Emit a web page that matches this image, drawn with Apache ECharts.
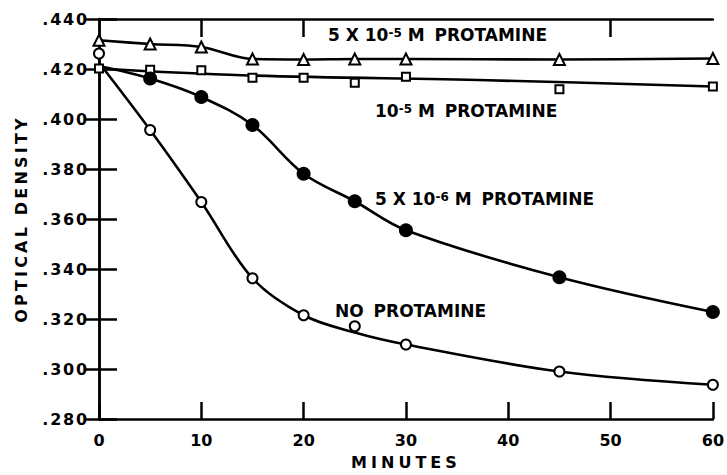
<!DOCTYPE html>
<html>
<head>
<meta charset="utf-8">
<script src="https://cdn.jsdelivr.net/npm/echarts@6/dist/echarts.min.js"></script>
<style>
  html, body { margin: 0; padding: 0; background: #fff; }
  #chart { width: 727px; height: 475px; }
</style>
</head>
<body>
<div id="chart"></div>
<script>
// Optical density of the suspension over time, at four protamine levels.

// 5 x 10^-5 M protamine (open triangles)
const triMinutes = [0, 5, 10, 15, 20, 25, 30, 45, 60];
const triDensity = [0.4315, 0.4300, 0.4288, 0.4240, 0.4238, 0.4240, 0.4240, 0.4238, 0.4242];

// 10^-5 M protamine (open squares) and its drawn trend line
const sqMinutes = [0, 5, 10, 15, 20, 25, 30, 45, 60];
const sqDensity = [0.4202, 0.4197, 0.4195, 0.4165, 0.4165, 0.4145, 0.4169, 0.4119, 0.4130];
const sqLineMinutes = [0, 14, 38, 60];
const sqLineDensity = [0.4202, 0.4175, 0.4155, 0.4130];

// 5 x 10^-6 M protamine (filled circles); the curve starts from the common origin
const fillMinutes = [5, 10, 15, 20, 25, 30, 45, 60];
const fillDensity = [0.4162, 0.4088, 0.3976, 0.3781, 0.3671, 0.3555, 0.3367, 0.3228];
const fillLineMinutes = [0, 5, 10, 15, 20, 25, 30, 45, 60];
const fillLineDensity = [0.4212, 0.4162, 0.4088, 0.3976, 0.3781, 0.3671, 0.3555, 0.3367, 0.3228];

// No protamine (open circles) and its drawn curve
const openMinutes = [0, 5, 10, 15, 20, 25, 30, 45, 60];
const openDensity = [0.4262, 0.3956, 0.3668, 0.3363, 0.3215, 0.3171, 0.3098, 0.2990, 0.2937];
const openLineMinutes = [0, 5, 10, 15, 20, 25, 30, 45, 60];
const openLineDensity = [0.4225, 0.3956, 0.3668, 0.3363, 0.3215, 0.3146, 0.3098, 0.2990, 0.2937];

// Axis ranges and ticks
const xMin = 0, xMax = 60, xStep = 10;
const yMin = 0.28, yMax = 0.44, yStep = 0.02;
const topTickMinutes = [10, 20, 50];

const FONT = 'DejaVu Sans';
const INK = '#000';

const pairs = (xs, ys) => xs.map((x, i) => [x, ys[i]]);

const chart = echarts.init(document.getElementById('chart'), null, { renderer: 'svg' });

const curve = (name, xs, ys) => ({
  name, type: 'line', data: pairs(xs, ys), smooth: 0.35,
  showSymbol: false, symbol: 'none', z: 2,
  lineStyle: { color: INK, width: 2.6 }
});
const marks = (name, xs, ys, symbol, size, fill) => ({
  name, type: 'scatter', data: pairs(xs, ys), symbol, symbolSize: size, z: 3,
  itemStyle: { color: fill, borderColor: INK, borderWidth: 2, opacity: 1 }
});

// Curve labels: 17px bold caps with a raised exponent
const mainText = { fontFamily: FONT, fontWeight: 'bold', fontSize: 17, lineHeight: 17, padding: [9, 0, 0, 0], verticalAlign: 'bottom', color: INK };
const wideText = Object.assign({}, mainText, { padding: [9, 0, 0, 4] });
const supText = { fontFamily: FONT, fontWeight: 'bold', fontSize: 12, lineHeight: 12, verticalAlign: 'top', color: INK };
const label = (left, top, text) => ({
  type: 'text', left, top, z: 10,
  style: { text, rich: { m: mainText, p: wideText, s: supText }, fill: INK, font: 'bold 17px ' + FONT }
});

const axisFont = { fontFamily: FONT, fontWeight: 'bold', fontSize: 16, color: INK };

chart.setOption({
  animation: false,
  backgroundColor: '#fff',
  grid: { left: 99, right: 10, top: 19, bottom: 53 },
  xAxis: [
    {
      type: 'value', position: 'bottom', min: xMin, max: xMax, interval: xStep,
      name: 'MINUTES', nameLocation: 'middle', nameGap: 35, nameTextStyle: axisFont,
      axisLine: { lineStyle: { color: INK, width: 2.5 } },
      axisTick: { inside: true, length: 17, lineStyle: { color: INK, width: 2.5 } },
      axisLabel: Object.assign({ margin: 13 }, axisFont),
      splitLine: { show: false }
    },
    {
      type: 'value', position: 'top', min: xMin, max: xMax, interval: xStep,
      axisLine: { lineStyle: { color: INK, width: 2.5 } },
      axisTick: { inside: true, length: 18, customValues: topTickMinutes, lineStyle: { color: INK, width: 2.5 } },
      axisLabel: { show: false },
      splitLine: { show: false }
    }
  ],
  yAxis: [
    {
      type: 'value', position: 'left', min: yMin, max: yMax, interval: yStep,
      name: 'OPTICAL DENSITY', nameLocation: 'middle', nameGap: 70, nameTextStyle: axisFont,
      axisLine: { lineStyle: { color: INK, width: 2.5 } },
      axisTick: { inside: true, length: 18, lineStyle: { color: INK, width: 2.5 } },
      axisLabel: Object.assign({ margin: 10, formatter: v => v.toFixed(3).replace(/^0/, '') }, axisFont),
      splitLine: { show: false }
    },
    {
      type: 'value', position: 'right', min: yMin, max: yMax, interval: yStep,
      axisLine: { lineStyle: { color: INK, width: 2.5 } },
      axisTick: { inside: true, length: 13, lineStyle: { color: INK, width: 2.5 } },
      axisLabel: { show: false },
      splitLine: { show: false }
    }
  ],
  series: [
    curve('5 X 10-5 M', triMinutes, triDensity),
    curve('10-5 M', sqLineMinutes, sqLineDensity),
    curve('5 X 10-6 M', fillLineMinutes, fillLineDensity),
    curve('none', openLineMinutes, openLineDensity),
    marks('5 X 10-5 M', triMinutes, triDensity, 'triangle', 11, '#fff'),
    marks('10-5 M', sqMinutes, sqDensity, 'rect', 8, '#fff'),
    marks('5 X 10-6 M', fillMinutes, fillDensity, 'circle', 12, INK),
    marks('none', openMinutes, openDensity, 'circle', 10, '#fff')
  ],
  graphic: [
    label(328, 17.5, '{m|5 X 10}{s|-5}{m| M }{p|PROTAMINE}'),
    label(375, 93.5, '{m|10}{s|-5}{m| M }{p|PROTAMINE}'),
    label(375, 181.5, '{m|5 X 10}{s|-6}{m| M }{p|PROTAMINE}'),
    label(335, 293, '{m|NO }{p|PROTAMINE}')
  ]
});

// Wide hand-lettered spacing for the axis titles and tick labels
function spaceLetters() {
  document.querySelectorAll('#chart text').forEach(t => {
    const s = t.textContent;
    if (s === 'OPTICAL DENSITY') t.setAttribute('letter-spacing', '3.2');
    else if (s === 'MINUTES') t.setAttribute('letter-spacing', '4');
    else if (/^\.\d{3}$/.test(s)) t.setAttribute('letter-spacing', '1.8');
  });
}
chart.on('finished', spaceLetters);
spaceLetters();
</script>
</body>
</html>
